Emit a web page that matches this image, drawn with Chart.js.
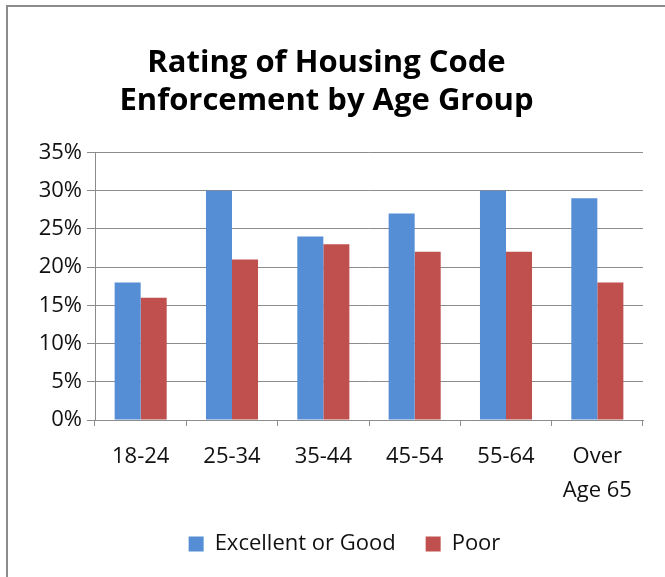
<!DOCTYPE html>
<html>
<head>
<meta charset="utf-8">
<script src="https://cdn.jsdelivr.net/npm/chart.js@4"></script>
<style>
  html, body { margin: 0; padding: 0; background: #fff; }
  #wrap { position: relative; width: 665px; height: 577px; overflow: hidden; }
  #frame { position: absolute; left: 6px; top: 5px; width: 700px; height: 620px;
           border-left: 2px solid #8c8c8c; border-top: 2px solid #8c8c8c; }
  #chart { position: absolute; left: 0; top: 0; }
</style>
</head>
<body>
<div id="wrap">
  <div id="frame"></div>
  <canvas id="chart" width="665" height="577"></canvas>
</div>
<script>
const ageGroups = ['18-24', '25-34', '35-44', '45-54', '55-64', ['Over', 'Age 65']];
const excellentOrGood = [18, 30, 24, 27, 30, 29];
const poor = [16, 21, 23, 22, 22, 18];
const yTicks = [0, 5, 10, 15, 20, 25, 30, 35];

const font = '"Open Sans", "Liberation Sans", sans-serif';
const gridGray = '#8c8c8c';

// the legend sits a little right of centre in the original, nudge it over
const legendShift = {
  id: 'legendShift',
  afterLayout(chart) {
    chart.legend.left += 18;
    chart.legend.right += 18;
  },
};

const ctx = document.getElementById('chart').getContext('2d');
const housingChart = new Chart(ctx, {
  type: 'bar',
  data: {
    labels: ageGroups,
    datasets: [{
      label: 'Excellent or Good',
      data: excellentOrGood,
      backgroundColor: '#558ED5',
    }, {
      label: 'Poor',
      data: poor,
      backgroundColor: '#C0504D',
    }],
  },
  options: {
    responsive: false,
    animation: false,
    events: [],
    layout: {
      padding: { left: 10, right: 22, top: 0, bottom: 12 },
    },
    datasets: {
      bar: { barPercentage: 1, categoryPercentage: 0.57 },
    },
    scales: {
      x: {
        grid: { offset: true, drawOnChartArea: false, tickLength: 6, color: gridGray },
        border: { color: gridGray },
        ticks: {
          color: '#111',
          padding: 14,
          maxRotation: 0,
          font: { family: font, size: 22, lineHeight: 1.55 },
        },
        afterFit(scale) { scale.height = 83; },
      },
      y: {
        min: 0,
        max: 35,
        afterBuildTicks(scale) { scale.ticks = yTicks.map(v => ({ value: v })); },
        grid: { color: gridGray, tickLength: 8 },
        border: { color: gridGray },
        ticks: {
          color: '#111',
          padding: 5,
          font: { family: font, size: 22 },
          callback: v => v + '%',
        },
        afterFit(scale) { scale.width = 85; },
      },
    },
    plugins: {
      title: {
        display: true,
        text: ['Rating of Housing Code', 'Enforcement by Age Group'],
        color: '#000',
        font: { family: font, size: 31, weight: 'bold', lineHeight: 1.2 },
        padding: { top: 45, bottom: 33 },
      },
      legend: {
        position: 'bottom',
        labels: {
          color: '#111',
          boxWidth: 15,
          boxHeight: 15,
          padding: 30,
          font: { family: font, size: 22 },
        },
      },
      tooltip: { enabled: false },
    },
  },
  plugins: [legendShift],
});
</script>
</body>
</html>
